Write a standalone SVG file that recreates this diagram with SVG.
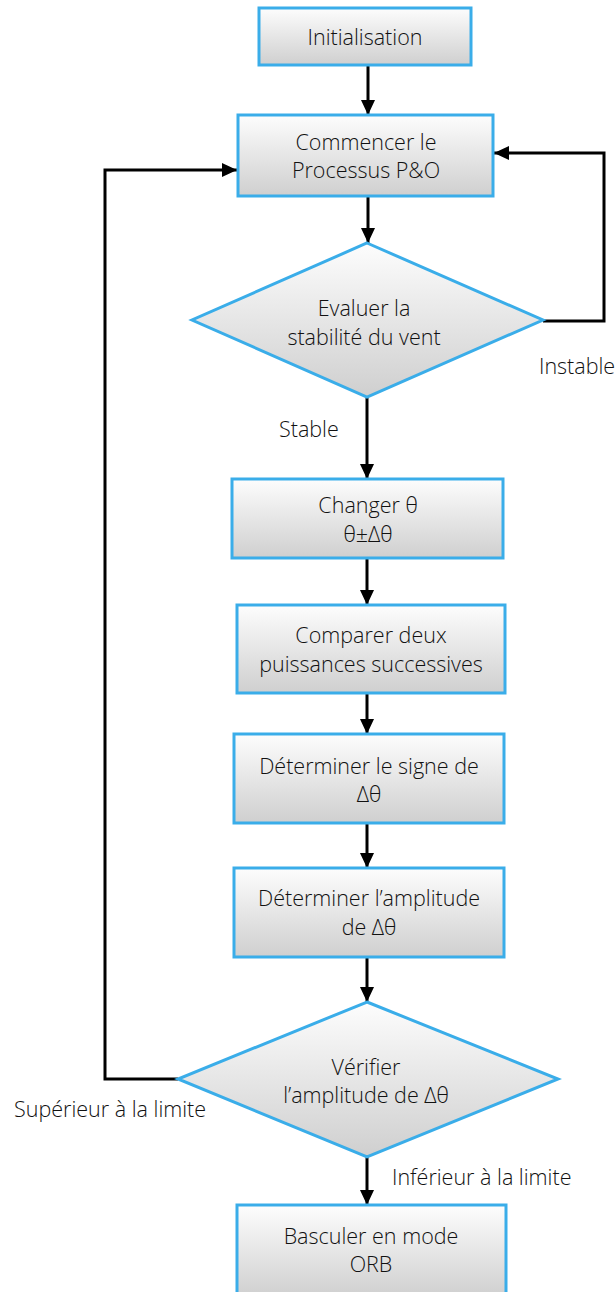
<svg xmlns="http://www.w3.org/2000/svg" width="616" height="1292" viewBox="0 0 616 1292">
<defs>
<linearGradient id="g" x1="0" y1="0" x2="0" y2="1">
<stop offset="0" stop-color="#fdfdfd"/>
<stop offset="1" stop-color="#cfcfcf"/>
</linearGradient>
<marker id="ah" markerUnits="userSpaceOnUse" markerWidth="16" markerHeight="14" refX="15" refY="7" orient="auto">
<path d="M0,0 L15,7 L0,14 Z" fill="#000"/>
</marker>
<style>
.n{fill:url(#g);stroke:#3aade9;stroke-width:3}
.t{font-family:"Open Sans","Noto Sans","DejaVu Sans",sans-serif;font-size:21.5px;font-weight:300;fill:#111;text-anchor:middle}
.l{font-family:"Open Sans","Noto Sans","DejaVu Sans",sans-serif;font-size:21.5px;font-weight:300;fill:#111}
.c{fill:none;stroke:#000;stroke-width:3;marker-end:url(#ah)}
</style>
</defs>
<rect width="616" height="1292" fill="#fff"/>
<g id="connectors">
<path class="c" d="M368,65 V115"/>
<path class="c" d="M368,196 V243"/>
<path class="c" d="M367,397 V479"/>
<path class="c" d="M367,558 V605"/>
<path class="c" d="M367,693 V734"/>
<path class="c" d="M367,823 V868"/>
<path class="c" d="M367,957 V1002"/>
<path class="c" d="M367,1157 V1205"/>
<path class="c" d="M543,321 H604 V153 H494"/>
<path class="c" d="M178,1079 H105 V170 H237"/>
</g>
<g id="n-init">
<rect class="n" x="259" y="8" width="212" height="57"/>
<text class="t" x="365" y="45">Initialisation</text>
</g>
<g id="n-commencer">
<rect class="n" x="238" y="115" width="255" height="81"/>
<text class="t" x="366" y="150">Commencer le</text>
<text class="t" x="366" y="178">Processus P&amp;O</text>
</g>
<g id="n-evaluer">
<polygon class="n" points="367,243 543,320 367,397 192,320"/>
<text class="t" x="364" y="316">Evaluer la</text>
<text class="t" x="364" y="345">stabilité du vent</text>
</g>
<g id="n-changer">
<rect class="n" x="232" y="479" width="271" height="79"/>
<text class="t" x="368" y="513">Changer θ</text>
<text class="t" x="368" y="542">θ±Δθ</text>
</g>
<g id="n-comparer">
<rect class="n" x="237" y="605" width="268" height="88"/>
<text class="t" x="371" y="643">Comparer deux</text>
<text class="t" x="371" y="672">puissances successives</text>
</g>
<g id="n-signe">
<rect class="n" x="234" y="734" width="270" height="89"/>
<text class="t" x="369" y="774">Déterminer le signe de</text>
<text class="t" x="369" y="802">Δθ</text>
</g>
<g id="n-amplitude">
<rect class="n" x="234" y="868" width="270" height="89"/>
<text class="t" x="369" y="906">Déterminer l’amplitude</text>
<text class="t" x="369" y="935">de Δθ</text>
</g>
<g id="n-verifier">
<polygon class="n" points="367,1002 558,1079 367,1157 178,1079"/>
<text class="t" x="366" y="1075">Vérifier</text>
<text class="t" x="366" y="1103">l’amplitude de Δθ</text>
</g>
<g id="n-basculer">
<rect class="n" x="237" y="1205" width="269" height="92"/>
<text class="t" x="371" y="1244">Basculer en mode</text>
<text class="t" x="371" y="1272">ORB</text>
</g>
<g id="labels">
<text class="l" x="539" y="374">Instable</text>
<text class="l" x="279" y="437">Stable</text>
<text class="l" x="14" y="1117">Supérieur à la limite</text>
<text class="l" x="392" y="1185">Inférieur à la limite</text>
</g>
</svg>
